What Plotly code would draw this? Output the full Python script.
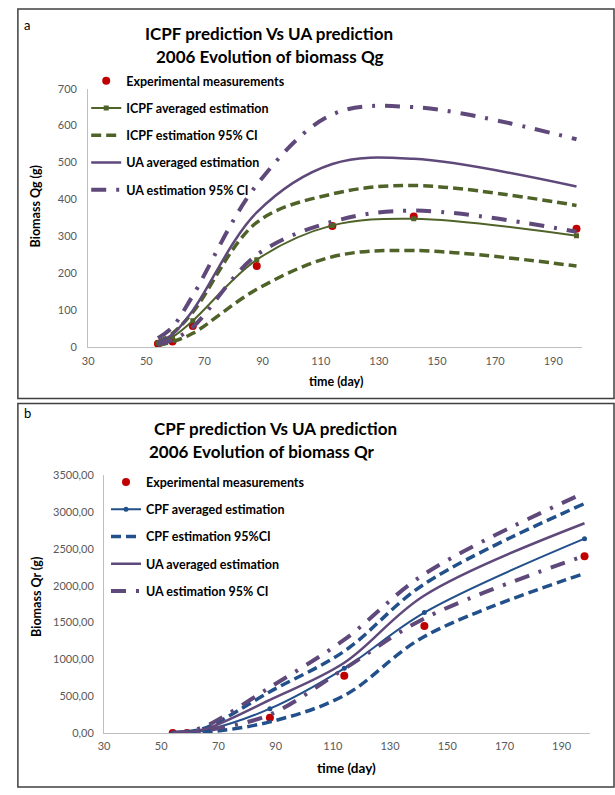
import plotly.graph_objects as go

W, H = 615, 795

# ---------------- data ----------------
days = [54, 59, 66, 88, 114, 142, 198]

# Panel a: biomass Qg (g)
exp_qg = [10, 16, 58, 220, 328, 354, 321]
icpf_avg = [12, 28, 72, 237, 330, 348, 302]
icpf_up = [15, 38, 95, 338, 415, 438, 384]
icpf_lo = [5, 15, 38, 157, 245, 262, 220]
ua_qg_avg = [15, 35, 100, 365, 496, 510, 435]
ua_qg_up = [25, 55, 140, 440, 630, 650, 563]
ua_qg_lo = [8, 20, 55, 250, 340, 370, 313]

# Panel b: biomass Qr (g)
exp_qr = [0, 0, 10, 205, 778, 1452, 2400]
cpf_avg = [0, 5, 40, 330, 878, 1635, 2638]
cpf_up = [2, 15, 75, 560, 1110, 2023, 3115]
cpf_lo = [0, 0, 10, 150, 508, 1310, 2166]
ua_qr_avg = [0, 10, 60, 450, 953, 1867, 2848]
ua_qr_up = [2, 20, 100, 620, 1266, 2157, 3262]
ua_qr_lo = [0, 5, 35, 250, 870, 1555, 2406]

x_ticks = [30, 50, 70, 90, 110, 130, 150, 170, 190]
qg_ticks = [0, 100, 200, 300, 400, 500, 600, 700]
qr_ticks = [0, 500, 1000, 1500, 2000, 2500, 3000, 3500]

# ---------------- styles ----------------
FONT = "Lato"
RED = "#C00000"
GREEN = "#4F6228"
PURPLE = "#5F497A"
BLUE = "#22508A"
AX = "#BFBFBF"
TICKC = "#595959"

def px(x):
    return x / W

def py(y):
    return 1 - y / H

fig = go.Figure()

def add_set(xa, ya, leg, exp, avg, up, lo, avgname, ciname, avgcol, avgmarker):
    fig.add_trace(go.Scatter(x=days, y=exp, mode="markers", name="Experimental measurements",
                             marker=dict(color=RED, size=8), xaxis=xa, yaxis=ya,
                             legend=leg, legendgroup=leg + "e"))
    fig.add_trace(go.Scatter(x=days, y=avg, mode="lines+markers", name=avgname,
                             line=dict(color=avgcol, width=2, shape="spline", smoothing=1),
                             marker=dict(color=avgcol, size=5, symbol=avgmarker),
                             xaxis=xa, yaxis=ya, legend=leg, legendgroup=leg + "a"))
    for i, v in enumerate([up, lo]):
        fig.add_trace(go.Scatter(x=days, y=v, mode="lines", name=ciname,
                                 line=dict(color=avgcol, width=3.5, dash="10px,5px",
                                           shape="spline", smoothing=1),
                                 xaxis=xa, yaxis=ya, legend=leg, legendgroup=leg + "c",
                                 showlegend=(i == 0)))

def add_ua(xa, ya, leg, avg, up, lo, ciname):
    fig.add_trace(go.Scatter(x=days, y=avg, mode="lines", name="UA averaged estimation",
                             line=dict(color=PURPLE, width=2.5, shape="spline", smoothing=1),
                             xaxis=xa, yaxis=ya, legend=leg, legendgroup=leg + "u"))
    for i, v in enumerate([up, lo]):
        fig.add_trace(go.Scatter(x=days, y=v, mode="lines", name=ciname,
                                 line=dict(color=PURPLE, width=4, dash="15px,10px,3px,10px",
                                           shape="spline", smoothing=1),
                                 xaxis=xa, yaxis=ya, legend=leg, legendgroup=leg + "v",
                                 showlegend=(i == 0)))

# panel a traces
add_set("x", "y", "legend", exp_qg, icpf_avg, icpf_up, icpf_lo,
        "ICPF averaged estimation", "ICPF estimation 95% CI", GREEN, "square")
add_ua("x", "y", "legend", ua_qg_avg, ua_qg_up, ua_qg_lo, "UA estimation 95% CI")

# panel b traces
add_set("x2", "y2", "legend2", exp_qr, cpf_avg, cpf_up, cpf_lo,
        "CPF averaged estimation", "CPF estimation 95%CI", BLUE, "circle")
add_ua("x2", "y2", "legend2", ua_qr_avg, ua_qr_up, ua_qr_lo, "UA estimation 95% CI")

axis_common = dict(showgrid=False, zeroline=False, showline=True, linecolor=AX, linewidth=1,
                   ticks="", tickfont=dict(family=FONT, size=11, color=TICKC))

leg_common = dict(font=dict(family=FONT, size=12.5, color="#000000", weight="bold"),
                  bgcolor="rgba(0,0,0,0)", xanchor="left", yanchor="top",
                  tracegroupgap=8, traceorder="grouped", itemwidth=30)

fig.update_layout(
    width=W, height=H,
    margin=dict(l=0, r=0, t=0, b=0),
    paper_bgcolor="white", plot_bgcolor="white",
    separators=",.",
    showlegend=True,
    xaxis=dict(domain=[px(83), px(582)], range=[30, 200], tickvals=x_ticks,
               anchor="y", ticklabelstandoff=3, **axis_common),
    yaxis=dict(domain=[py(346), py(83)], range=[0, 700], tickvals=qg_ticks,
               anchor="x", ticklabelstandoff=8, **axis_common),
    xaxis2=dict(domain=[px(99), px(590)], range=[30, 200], tickvals=x_ticks,
                anchor="y2", ticklabelstandoff=3, **axis_common),
    yaxis2=dict(domain=[py(738), py(476)], range=[0, 3500], tickvals=qr_ticks,
                tickformat=".2f", anchor="x2", ticklabelstandoff=7, **axis_common),
    legend=dict(x=px(81), y=py(60), **leg_common),
    legend2=dict(x=px(101), y=py(468), **leg_common),
)

# panel borders
for y0, y1 in [(2, 398), (403, 793)]:
    fig.add_shape(type="rect", xref="paper", yref="paper",
                  x0=px(12), x1=px(614), y0=py(y1), y1=py(y0),
                  line=dict(color="#404040", width=1.5), fillcolor="rgba(0,0,0,0)")

def ann(text, x, y, size, bold=False, angle=0, color="#000000"):
    fig.add_annotation(text=text, x=px(x), y=py(y), xref="paper", yref="paper",
                       showarrow=False, xanchor="center", yanchor="middle", textangle=angle,
                       font=dict(family=FONT, size=size, color=color,
                                 weight="bold" if bold else "normal"))

# titles
ann("ICPF prediction Vs UA prediction", 266, 27, 17, True)
ann("2006 Evolution of biomass Qg", 266, 50, 17, True)
ann("CPF prediction Vs UA prediction", 272, 428, 17, True)
ann("2006 Evolution of biomass Qr", 258, 452, 17, True)

# panel letters
ann("a", 21, 18, 13)
ann("b", 22, 413, 13)

# axis titles
ann("Biomass Qg (g)", 30, 203, 12.5, True, -90)
ann("time (day)", 333, 381, 12.5, True)
ann("Biomass Qr (g)", 30, 600, 12.5, True, -90)
ann("time (day)", 344, 774, 13.5, True)

fig.write_html("out.html", config={"displayModeBar": False},
               post_script="document.body.style.margin='0';document.body.style.overflow='hidden';")
